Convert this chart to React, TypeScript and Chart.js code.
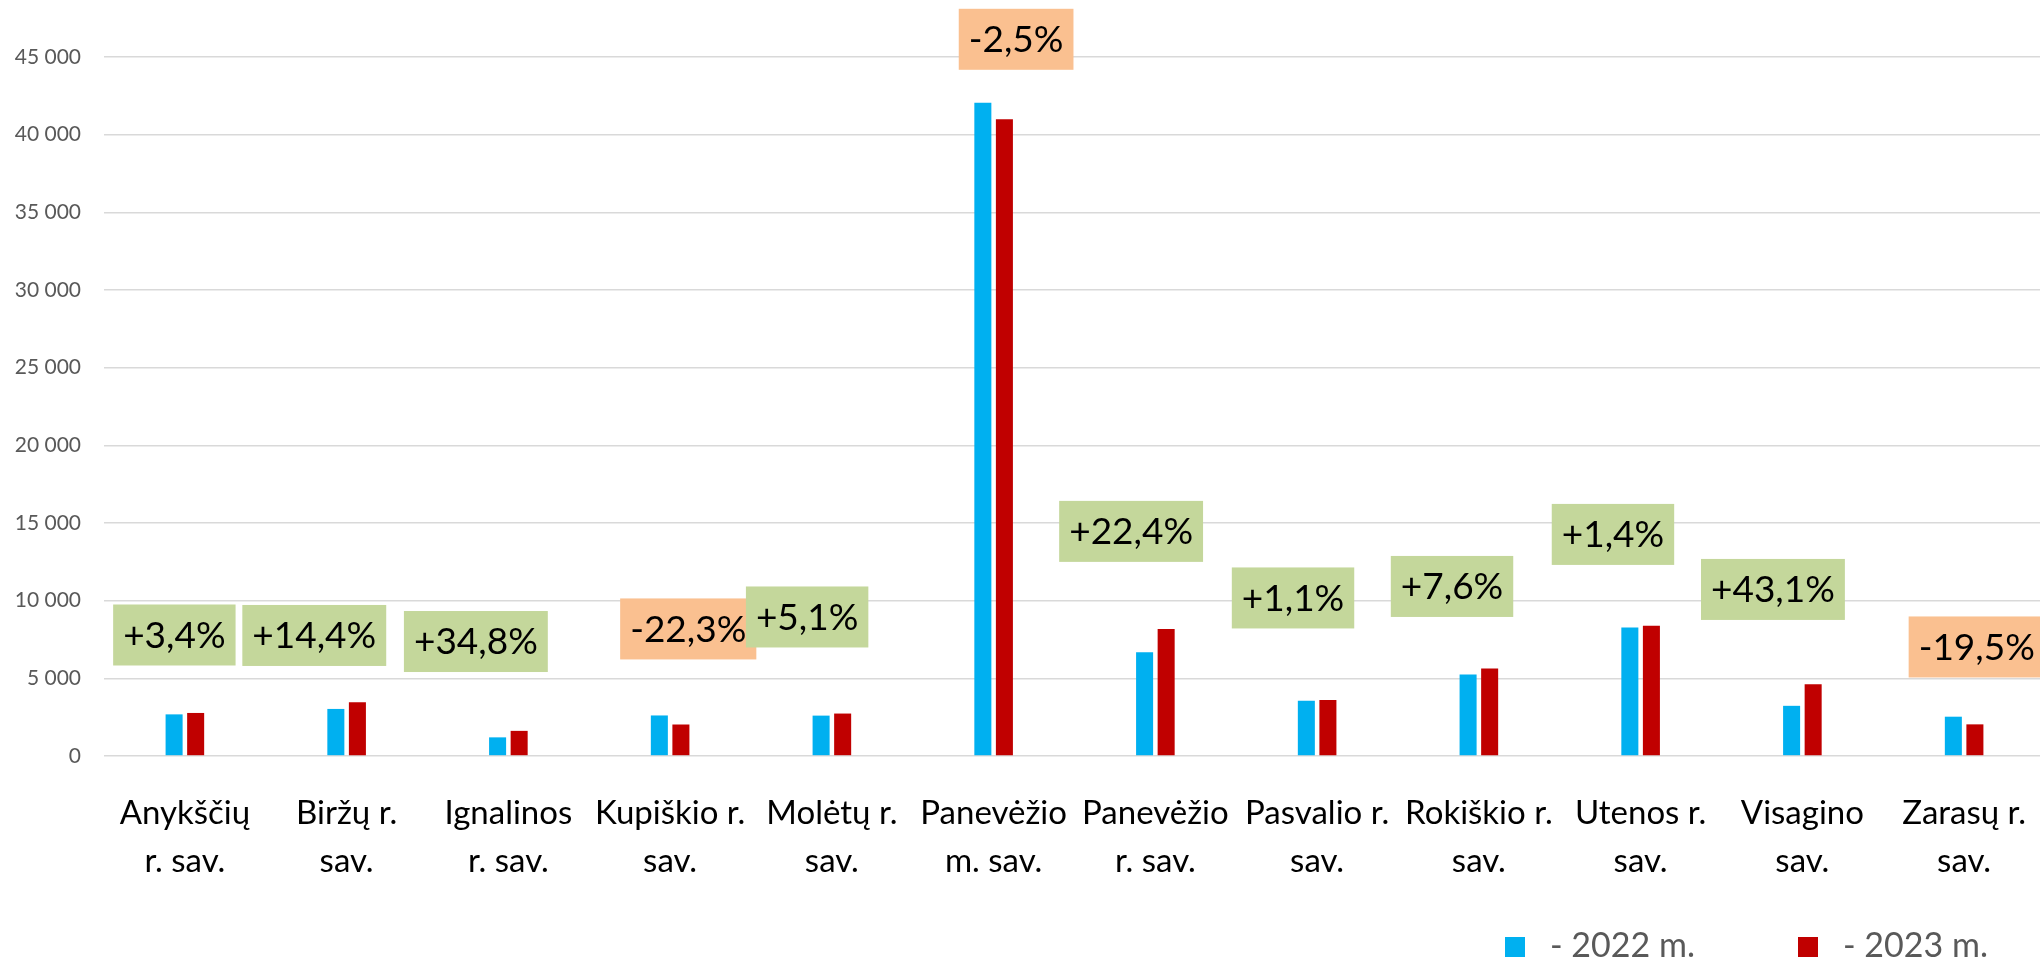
import React, { useEffect, useRef } from "react";
import { Chart, registerables } from "chart.js";

Chart.register(...registerables);

// ---- data ----
const categories: string[][] = [
  ["Anykščių", "r. sav."],
  ["Biržų r.", "sav."],
  ["Ignalinos", "r. sav."],
  ["Kupiškio r.", "sav."],
  ["Molėtų r.", "sav."],
  ["Panevėžio", "m. sav."],
  ["Panevėžio", "r. sav."],
  ["Pasvalio r.", "sav."],
  ["Rokiškio r.", "sav."],
  ["Utenos r.", "sav."],
  ["Visagino", "sav."],
  ["Zarasų r.", "sav."],
];
const values2022 = [2680, 3030, 1200, 2610, 2600, 42050, 6680, 3560, 5240, 8270, 3230, 2530];
const values2023 = [2771, 3466, 1618, 2028, 2733, 41000, 8176, 3599, 5638, 8386, 4622, 2037];
const seriesNames = ["- 2022 m.", "- 2023 m."];
const changeLabels = ["+3,4%", "+14,4%", "+34,8%", "-22,3%", "+5,1%", "-2,5%", "+22,4%", "+1,1%", "+7,6%", "+1,4%", "+43,1%", "-19,5%"];
const yMax = 45000;
const yStep = 5000;

// label anchors (value units on y, category-units shift on x)
const labelAnchorValue = [7790, 7760, 7370, 8180, 8950, 46140, 14460, 10175, 10915, 14265, 10723, 7020];
const labelAnchorShift = [-0.065, -0.2, -0.201, 0.112, -0.153, 0.139, -0.15, -0.149, -0.166, -0.171, -0.182, 0.078];

const COLOR_2022 = "#00B0F0";
const COLOR_2023 = "#C00000";
const GREEN_BOX = "#C4D79B";
const ORANGE_BOX = "#FAC090";

const CANVAS_W = 2045;
const CANVAS_H = 962;

const fmt = (v: number) => String(v).replace(/\B(?=(\d{3})+(?!\d))/g, " ");

const changeLabelPlugin = {
  id: "changeLabels",
  afterDatasetsDraw(chart: any) {
    const { ctx } = chart;
    const xs = chart.scales.x;
    const ys = chart.scales.y;
    ctx.save();
    ctx.font = "37px Lato";
    ctx.textAlign = "center";
    ctx.textBaseline = "middle";
    changeLabels.forEach((txt, i) => {
      const cx = xs.getPixelForValue(i + labelAnchorShift[i]);
      const cy = ys.getPixelForValue(labelAnchorValue[i]);
      const w = ctx.measureText(txt).width + 20;
      const h = 61;
      ctx.fillStyle = txt.startsWith("-") ? ORANGE_BOX : GREEN_BOX;
      ctx.fillRect(cx - w / 2, cy - h / 2, w, h);
      ctx.fillStyle = "#000000";
      ctx.fillText(txt, cx, cy + 1);
    });
    ctx.restore();
  },
};

const legendPlugin = {
  id: "customLegend",
  afterDraw(chart: any) {
    const { ctx } = chart;
    const items = [
      { x: 1505, color: COLOR_2022, text: seriesNames[0] },
      { x: 1798, color: COLOR_2023, text: seriesNames[1] },
    ];
    ctx.save();
    ctx.font = "34px Lato";
    ctx.textAlign = "left";
    ctx.textBaseline = "alphabetic";
    items.forEach((it) => {
      ctx.fillStyle = it.color;
      ctx.fillRect(it.x, 937, 20, 20);
      ctx.fillStyle = "#595959";
      ctx.fillText(it.text, it.x + 45, 957);
    });
    ctx.restore();
  },
};

export default function App() {
  const ref = useRef<HTMLCanvasElement | null>(null);

  useEffect(() => {
    let chart: Chart | null = null;
    let cancelled = false;
    const make = () => {
      if (cancelled || !ref.current) return;
      chart = new Chart(ref.current, {
        type: "bar",
        data: {
          labels: categories,
          datasets: [
            {
              label: seriesNames[0],
              data: values2022,
              backgroundColor: COLOR_2022,
              categoryPercentage: 0.2665,
              barPercentage: 0.79,
            },
            {
              label: seriesNames[1],
              data: values2023,
              backgroundColor: COLOR_2023,
              categoryPercentage: 0.2665,
              barPercentage: 0.79,
            },
          ],
        },
        options: {
          responsive: false,
          animation: false,
          devicePixelRatio: 1,
          layout: { padding: { top: 57, left: 0, right: 0, bottom: 0 } },
          plugins: {
            legend: { display: false },
            tooltip: { enabled: false },
          },
          scales: {
            x: {
              grid: { display: false, drawTicks: true, tickLength: 33, tickColor: "rgba(0,0,0,0)" },
              border: { display: false },
              ticks: {
                color: "#000000",
                font: { family: "Lato", size: 33, lineHeight: 48 / 33 },
                padding: 0,
                maxRotation: 0,
                minRotation: 0,
                autoSkip: false,
              },
              afterFit: (scale: any) => {
                scale.height = 206;
                scale.paddingLeft = 0;
                scale.paddingRight = 0;
              },
            },
            y: {
              min: 0,
              max: yMax,
              grid: { color: "#D9D9D9", lineWidth: 1.6, drawTicks: false },
              border: { display: false },
              ticks: {
                stepSize: yStep,
                color: "#595959",
                font: { family: "Lato", size: 21 },
                padding: 23,
                callback: (v: any) => fmt(Number(v)),
              },
              afterFit: (scale: any) => {
                scale.width = 104;
              },
            },
          },
        },
        plugins: [changeLabelPlugin, legendPlugin],
      });
    };
    const fonts: any = (document as any).fonts;
    if (fonts && fonts.load) {
      Promise.all([fonts.load("33px Lato"), fonts.load("37px Lato")]).then(make, make);
    } else {
      make();
    }
    return () => {
      cancelled = true;
      if (chart) chart.destroy();
    };
  }, []);

  return (
    <div style={{ position: "absolute", left: 0, top: 0, width: 2040, height: CANVAS_H, overflow: "hidden", background: "#ffffff" }}>
      <canvas ref={ref} width={CANVAS_W} height={CANVAS_H} style={{ display: "block", width: CANVAS_W, height: CANVAS_H }} />
    </div>
  );
}
